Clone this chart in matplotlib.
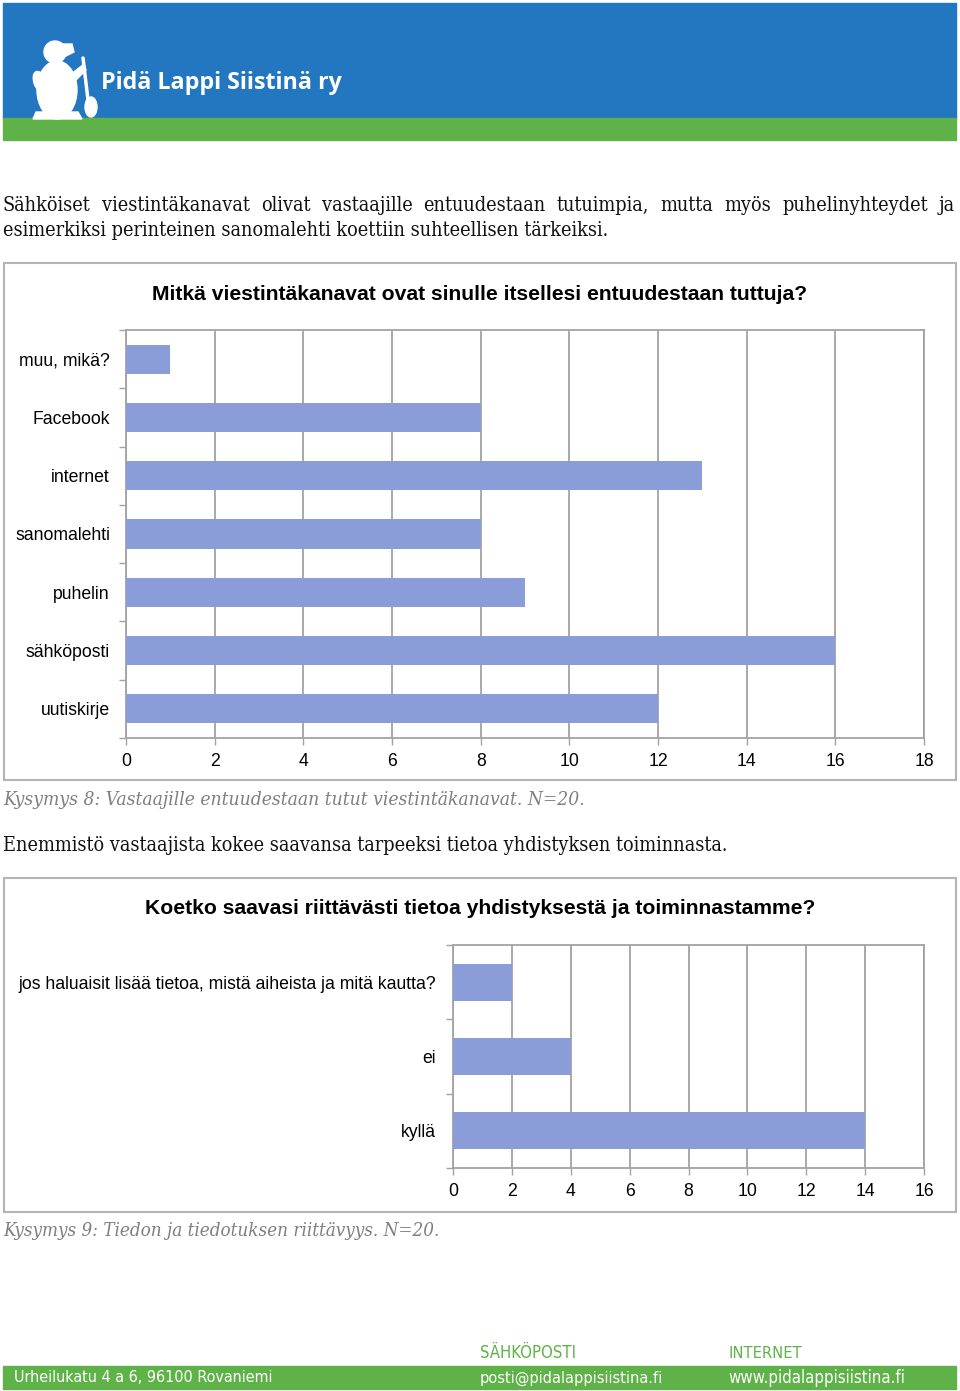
import matplotlib
matplotlib.use("Agg")
import matplotlib.pyplot as plt
from matplotlib.patches import Rectangle, Ellipse, Polygon
import numpy as np

# ---------------- data ----------------
q8_categories = ["muu, mikä?", "Facebook", "internet", "sanomalehti", "puhelin", "sähköposti", "uutiskirje"]
q8_values = [1, 8, 13, 8, 9, 16, 12]
q8_ticks = [0, 2, 4, 6, 8, 10, 12, 14, 16, 18]

q9_categories = ["jos haluaisit lisää tietoa, mistä aiheista ja mitä kautta?", "ei", "kyllä"]
q9_values = [2, 4, 14]
q9_ticks = [0, 2, 4, 6, 8, 10, 12, 14, 16]

title8 = "Mitkä viestintäkanavat ovat sinulle itsellesi entuudestaan tuttuja?"
title9 = "Koetko saavasi riittävästi tietoa yhdistyksestä ja toiminnastamme?"
para1 = ["Sähköiset viestintäkanavat olivat vastaajille entuudestaan tutuimpia, mutta myös puhelinyhteydet ja",
         "esimerkiksi perinteinen sanomalehti koettiin suhteellisen tärkeiksi."]
caption8 = "Kysymys 8: Vastaajille entuudestaan tutut viestintäkanavat. N=20."
para2 = "Enemmistö vastaajista kokee saavansa tarpeeksi tietoa yhdistyksen toiminnasta."
caption9 = "Kysymys 9: Tiedon ja tiedotuksen riittävyys. N=20."
logo_text = "Pidä Lappi Siistinä ry"
footer_address = "Urheilukatu 4 a 6, 96100 Rovaniemi"
footer_email_label = "SÄHKÖPOSTI"
footer_email = "posti@pidalappisiistina.fi"
footer_web_label = "INTERNET"
footer_web = "www.pidalappisiistina.fi"

# ---------------- style ----------------
W, H = 960, 1391
BLUE = "#2376c0"
GREEN = "#5fb247"
BAR = "#8b9dd9"
GRID = "#a3a3a3"
BOX = "#b4b4b4"
SERIF = dict(family=["DejaVu Serif", "Liberation Serif"], fontstretch="condensed")
SANS = ["Liberation Sans", "DejaVu Sans"]

fig = plt.figure(figsize=(W / 100, H / 100), dpi=100)
renderer = fig.canvas.get_renderer()

page = fig.add_axes([0, 0, 1, 1])
page.set_xlim(0, W)
page.set_ylim(H, 0)
page.axis("off")


def fit_text(x, y, s, width, size, ha="left", **kw):
    t = page.text(x, y, s, fontsize=size, ha=ha, **kw)
    bb = t.get_window_extent(renderer)
    t.set_fontsize(size * width / bb.width)
    return t


def justify(x0, x1, y, s, size, **kw):
    words = s.split()
    ts = [page.text(0, y, w, fontsize=size, ha="left", va="baseline", **kw) for w in words]
    widths = [t.get_window_extent(renderer).width for t in ts]
    gap = (x1 - x0 - sum(widths)) / (len(words) - 1)
    x = x0
    for t, w in zip(ts, widths):
        t.set_x(x)
        x += w + gap


# ---------------- header ----------------
page.add_patch(Rectangle((3, 3), 953, 116, color=BLUE, zorder=1))
page.add_patch(Rectangle((3, 118), 953, 22, color=GREEN, zorder=1))
# simple bear silhouette
page.add_patch(Ellipse((57, 90), 40, 58, color="white", zorder=2))
page.add_patch(Ellipse((55, 52), 22, 22, color="white", zorder=2))
page.add_patch(Polygon([[60, 44], [72, 44], [74, 52], [62, 58]], color="white", zorder=2))
page.add_patch(Polygon([[36, 112], [78, 112], [82, 119], [33, 119]], color="white", zorder=2))
page.add_patch(Polygon([[70, 75], [84, 64], [86, 70], [74, 82]], color="white", zorder=2))
page.add_patch(Ellipse((40, 82), 12, 22, angle=-20, color="white", zorder=2))
page.plot([83, 88], [58, 100], color="white", lw=2.5, zorder=2, solid_capstyle="round")
page.add_patch(Ellipse((91, 107), 12, 20, color="white", zorder=2))
fit_text(101, 83, logo_text, 241, 17, va="center", color="white", fontweight="bold",
         family=["Open Sans", "DejaVu Sans"], zorder=3)

# ---------------- paragraph 1 ----------------
t2 = fit_text(3, 236, para1[1], 610, 14, va="baseline", color="#111111", **SERIF)
justify(3, 955, 211, para1[0], t2.get_fontsize(), color="#111111", **SERIF)

# ---------------- chart boxes ----------------
page.add_patch(Rectangle((3.5, 263), 952, 517, fill=False, ec=BOX, lw=1.5))
page.add_patch(Rectangle((3.5, 878), 952, 334, fill=False, ec=BOX, lw=1.5))

fit_text(479.5, 294, title8, 657, 14, ha="center", va="center", fontweight="bold", family=SANS)
fit_text(480, 908, title9, 674, 14, ha="center", va="center", fontweight="bold", family=SANS)

fit_text(3, 805, caption8, 583, 14, style="italic", color="#7f7f7f", va="baseline", **SERIF)
fit_text(3, 851, para2, 728, 14, color="#111111", va="baseline", **SERIF)
fit_text(3, 1236, caption9, 439, 14, style="italic", color="#7f7f7f", va="baseline", **SERIF)


def bar_chart(left, right, top, bottom, cats, vals, ticks, pad_px):
    ax = fig.add_axes([left / W, 1 - bottom / H, (right - left) / W, (bottom - top) / H])
    n = len(cats)
    pos = np.arange(n)
    ax.barh(pos, vals, height=0.5, color=BAR, zorder=3)
    ax.set_ylim(n - 0.5, -0.5)
    ax.set_xlim(ticks[0], ticks[-1])
    ax.set_xticks(ticks)
    ax.set_xticklabels([str(v) for v in ticks], fontsize=12.7, family=SANS)
    ax.set_yticks(pos)
    ax.set_yticklabels(cats, fontsize=12.7, family=SANS)
    ax.set_yticks(np.arange(n + 1) - 0.5, minor=True)
    ax.tick_params(axis="y", which="major", length=0, pad=pad_px * 0.72)
    ax.tick_params(axis="y", which="minor", length=5, color=GRID, width=1)
    ax.tick_params(axis="x", which="major", length=5, color=GRID, width=1, pad=6)
    ax.grid(axis="x", color=GRID, lw=1.3, zorder=0)
    ax.set_axisbelow(True)
    for s in ax.spines.values():
        s.set_color(GRID)
        s.set_linewidth(1.3)
    return ax


bar_chart(126, 924, 330, 738, q8_categories, q8_values, q8_ticks, 16)
bar_chart(453, 924, 945, 1168, q9_categories, q9_values, q9_ticks, 17)

# ---------------- footer ----------------
page.add_patch(Rectangle((3, 1366), 953, 23, color=GREEN, zorder=1))
NARROW = dict(family=["DejaVu Sans"], fontstretch="condensed")
fit_text(14, 1378, footer_address, 259, 12, va="center", color="white", zorder=3, **NARROW)
fit_text(480, 1378, footer_email, 183, 12, va="center", color="white", zorder=3, **NARROW)
fit_text(728, 1378, footer_web, 176, 12, va="center", color="white", zorder=3, **NARROW)
fit_text(480, 1353, footer_email_label, 96, 12, va="center", color=GREEN, zorder=3, **NARROW)
fit_text(728, 1353, footer_web_label, 73, 12, va="center", color=GREEN, zorder=3, **NARROW)

fig.savefig("out.png", dpi=100)
